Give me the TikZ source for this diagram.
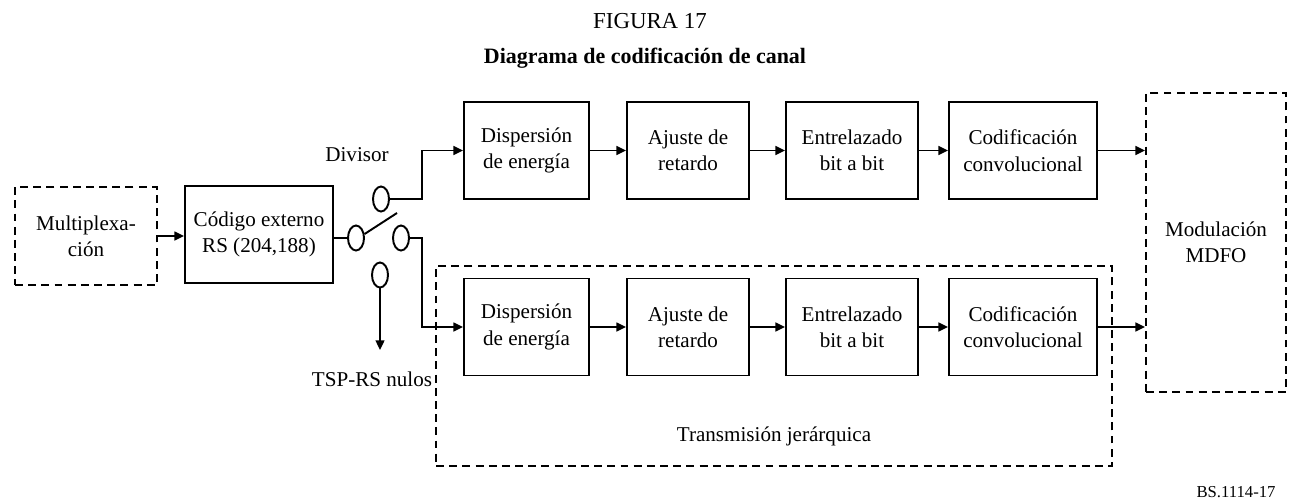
\documentclass[tikz,border=0pt]{standalone}
\usepackage{fontspec}
\setmainfont{Liberation Serif}
\usepackage{tikz}
\usetikzlibrary{arrows.meta, positioning, calc, shapes.geometric}
\tikzset{
    block/.style={draw, line width=1.1pt, align=center, inner sep=0pt,
        minimum height=1.94cm, font=\fontsize{12}{15}\selectfont},
    dashblock/.style={block, dash pattern=on 4.5pt off 3pt},
    contact/.style={draw, ellipse, line width=1.1pt, inner sep=0pt,
        minimum width=0.32cm, minimum height=0.5cm},
    flow/.style={-{Triangle[length=5.5pt, width=5pt]}, line width=1.1pt},
    wire/.style={line width=1.1pt},
    label/.style={font=\fontsize{12}{15}\selectfont, inner sep=0pt}
}

\begin{document}
\begin{tikzpicture}[x=0.02cm, y=-0.02cm]
    \useasboundingbox (0,0) rectangle (1290,501);
    % Titles
    \node[font=\fontsize{13}{15}\selectfont] (fig) at (650,21) {FIGURA 17};
    \node[font=\fontsize{12.5}{15}\selectfont\bfseries] (tit) at (645,58) {Diagrama de codificación de canal};
    % Input side
    \node[dashblock, minimum width=2.84cm, minimum height=1.96cm] (mux) at (86,236) {Multiplexa-\\ción};
    \node[block, minimum width=2.96cm] (rs) at (259,234.5) {Código externo\\RS (204,188)};
    \draw[flow] (mux.east |- 0,236) -- (rs.west |- 0,236);
    % Switch
    \node[contact] (swin) at (356,238) {};
    \node[contact] (swup) at (381,199) {};
    \node[contact] (swmid) at (401,238) {};
    \node[contact] (swdown) at (380,275) {};
    \coordinate (lever) at (397,213);
    \coordinate (split) at (422,238);
    \coordinate (nulo) at (380,350);
    \draw[wire] (swin.west) -- (swin.west -| rs.east);
    \draw[wire] (swin.25) -- (lever);
    \draw[flow] (swdown.south) -- (nulo);
    \node[label] (div) at (357,155) {Divisor};
    \node[label] (nulos) at (372,379) {TSP-RS nulos};
    % Hierarchical frame
    \node[dashblock, minimum width=13.52cm, minimum height=4cm] (jer) at (774,366) {};
    \node[label] (jertxt) at (774,436) {Transmisión jerárquica};
    % Upper chain
    \node[block, minimum width=2.5cm] (dis1) at (526.5,150.5) {Dispersión\\de energía};
    \node[block, minimum width=2.44cm] (aju1) at (688,150.5) {Ajuste de\\retardo};
    \node[block, minimum width=2.64cm] (ent1) at (852,150.5) {Entrelazado\\bit a bit};
    \node[block, minimum width=2.96cm] (cod1) at (1023,150.5) {Codificación\\convolucional};
    % Lower chain
    \node[block, minimum width=2.5cm] (dis2) at (526.5,327) {Dispersión\\de energía};
    \node[block, minimum width=2.44cm] (aju2) at (688,327) {Ajuste de\\retardo};
    \node[block, minimum width=2.64cm] (ent2) at (852,327) {Entrelazado\\bit a bit};
    \node[block, minimum width=2.96cm] (cod2) at (1023,327) {Codificación\\convolucional};
    % Modulator
    \node[dashblock, minimum width=2.8cm, minimum height=5.98cm] (mod) at (1216,242.5) {Modulación\\MDFO};
    % Branches
    \draw[flow] (swup.east) -- (swup.east -| split) |- (dis1.west);
    \draw[flow] (swmid.east) -- (split) |- (dis2.west);
    \foreach \row in {1,2} {
        \draw[flow] (dis\row.east) -- (aju\row.west);
        \draw[flow] (aju\row.east) -- (ent\row.west);
        \draw[flow] (ent\row.east) -- (cod\row.west);
        \draw[flow] (cod\row.east) -- (cod\row.east -| mod.west);
    }
    \node[font=\fontsize{9.5}{11}\selectfont] (ref) at (1236,492) {BS.1114-17};
\end{tikzpicture}
\end{document}
